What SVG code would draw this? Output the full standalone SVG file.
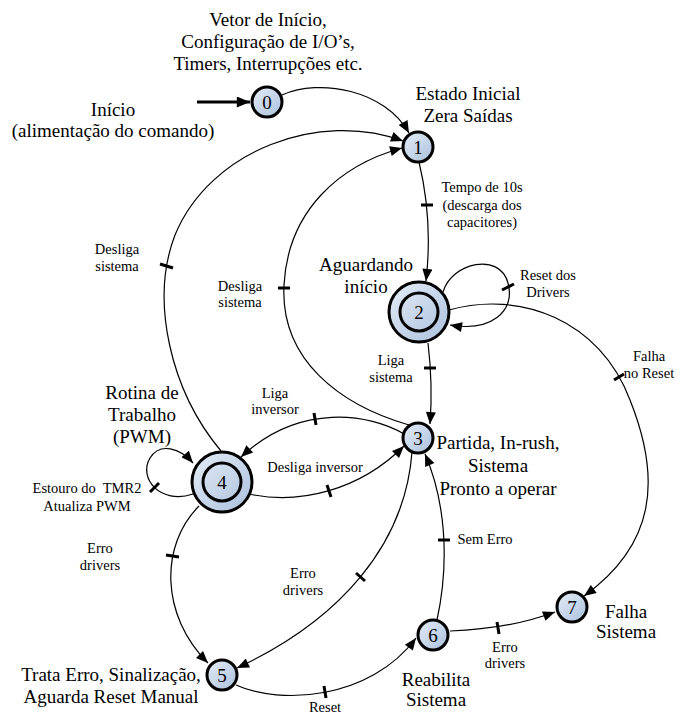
<svg xmlns="http://www.w3.org/2000/svg" width="687" height="715" viewBox="0 0 687 715">
  <style>
    .node { fill: url(#nodeFill); stroke: #000; stroke-width: 3; }
    .ring { fill: none; stroke: #000; stroke-width: 3; }
    .num { font-family: "Liberation Serif", "Times New Roman", serif; font-size: 19px; text-anchor: middle; fill: #000; }
    .big { font-family: "Liberation Serif", "Times New Roman", serif; font-size: 19px; text-anchor: middle; fill: #000; }
    .small { font-family: "Liberation Serif", "Times New Roman", serif; font-size: 14.5px; text-anchor: middle; fill: #000; }
    .edge { fill: none; stroke: #000; stroke-width: 1.2; marker-end: url(#arrow); }
    .tick { fill: none; stroke: #000; stroke-width: 3; }
  </style>
  <defs>
    <linearGradient id="nodeFill" x1="0" y1="0" x2="1" y2="1">
      <stop offset="0" stop-color="#e6edf7"/>
      <stop offset="1" stop-color="#a9c0dd"/>
    </linearGradient>
    <marker id="arrow" viewBox="0 0 12 10" refX="12" refY="5" markerWidth="14" markerHeight="10" markerUnits="userSpaceOnUse" orient="auto">
      <path d="M0,0 L12,5 L0,10 Z" fill="#000"/>
    </marker>
    <marker id="arrowBold" viewBox="0 0 12 10" refX="12" refY="5" markerWidth="15" markerHeight="11" markerUnits="userSpaceOnUse" orient="auto">
      <path d="M0,0 L12,5 L0,10 Z" fill="#000"/>
    </marker>
  </defs>

  <!-- free labels -->
  <g id="labels">
    <text class="big" x="268" y="26">Vetor de Início,</text>
    <text class="big" x="268" y="48">Configuração de I/O’s,</text>
    <text class="big" x="268" y="70">Timers, Interrupções etc.</text>
    <text class="big" x="113" y="116">Início</text>
    <text class="big" x="113" y="137">(alimentação do comando)</text>
  </g>

  <!-- connectors -->
  <g id="connectors">
    <path d="M197,102 L250,102" fill="none" stroke="#000" stroke-width="3" marker-end="url(#arrowBold)"/>
    <path class="edge" d="M282,95 C320,78 385,90 409,133"/>
    <path class="edge" d="M221,451 C170,390 150,300 175,235 C210,150 320,110 403,141"/>
    <path class="edge" d="M409,425 C340,405 280,360 284,285 C288,210 340,165 402,148"/>
    <path class="edge" d="M419,162 Q433,220 426,281"/>
    <path class="edge" d="M443,292 C452,262 500,252 508,283 C516,312 490,332 450,325"/>
    <path class="edge" d="M449,310 C520,290 600,320 630,400 C662,480 655,545 584,596"/>
    <path class="edge" d="M428,343 Q433,385 430,424"/>
    <path class="edge" d="M404,434 C370,414 300,402 241,457"/>
    <path class="edge" d="M249,494 C300,505 360,490 404,446"/>
    <path class="edge" d="M193,494 C160,505 138,478 150,458 C160,442 180,448 193,463"/>
    <path class="edge" d="M199,506 C160,545 160,615 208,663"/>
    <path class="edge" d="M412,452 C405,545 340,620 237,668"/>
    <path class="edge" d="M236,685 C280,705 370,700 416,638"/>
    <path class="edge" d="M437,620 C450,560 445,500 425,454"/>
    <path class="edge" d="M450,631 C480,630 520,625 555,612"/>

    <!-- transition bars -->
    <path class="tick" d="M421,205 L433,205"/>
    <path class="tick" d="M502,290 L514,284"/>
    <path class="tick" d="M614,380 L624,374"/>
    <path class="tick" d="M160,264 L173,268"/>
    <path class="tick" d="M278,288 L290,288"/>
    <path class="tick" d="M424,368 L436,368"/>
    <path class="tick" d="M314,413 L316,425"/>
    <path class="tick" d="M327,485 L331,497"/>
    <path class="tick" d="M159,483 L150,492"/>
    <path class="tick" d="M166,555 L179,557"/>
    <path class="tick" d="M356,573 L365,581"/>
    <path class="tick" d="M324,686 L326,698"/>
    <path class="tick" d="M438,540 L450,540"/>
    <path class="tick" d="M497,622 L499,634"/>

    <!-- transition labels -->
    <text class="small" x="482" y="192">Tempo de 10s</text>
    <text class="small" x="482" y="210">(descarga dos</text>
    <text class="small" x="482" y="227">capacitores)</text>
    <text class="small" x="548" y="280">Reset dos</text>
    <text class="small" x="548" y="297">Drivers</text>
    <text class="small" x="649" y="361">Falha</text>
    <text class="small" x="649" y="378">no Reset</text>
    <text class="small" x="117" y="254">Desliga</text>
    <text class="small" x="117" y="271">sistema</text>
    <text class="small" x="240" y="291">Desliga</text>
    <text class="small" x="240" y="307">sistema</text>
    <text class="small" x="391" y="365">Liga</text>
    <text class="small" x="391" y="382">sistema</text>
    <text class="small" x="275" y="398">Liga</text>
    <text class="small" x="275" y="414">inversor</text>
    <text class="small" x="315" y="472">Desliga inversor</text>
    <text class="small" x="87" y="493">Estouro do&#160; TMR2</text>
    <text class="small" x="87" y="511">Atualiza PWM</text>
    <text class="small" x="100" y="553">Erro</text>
    <text class="small" x="100" y="570">drivers</text>
    <text class="small" x="303" y="578">Erro</text>
    <text class="small" x="303" y="595">drivers</text>
    <text class="small" x="485" y="544">Sem Erro</text>
    <text class="small" x="505" y="652">Erro</text>
    <text class="small" x="505" y="668">drivers</text>
    <text class="small" x="325" y="712">Reset</text>
  </g>

  <!-- states -->
  <g id="state0">
    <circle class="node" cx="267" cy="102" r="15"/>
    <text class="num" x="267" y="109">0</text>
  </g>
  <g id="state1">
    <circle class="node" cx="418" cy="147" r="15"/>
    <text class="num" x="418" y="154">1</text>
    <text class="big" x="468" y="100">Estado Inicial</text>
    <text class="big" x="468" y="122">Zera Saídas</text>
  </g>
  <g id="state2">
    <circle class="node" cx="419" cy="312" r="30"/>
    <circle class="ring" cx="419" cy="312" r="19"/>
    <text class="num" x="419" y="319">2</text>
    <text class="big" x="366" y="271">Aguardando</text>
    <text class="big" x="366" y="293">início</text>
  </g>
  <g id="state3">
    <circle class="node" cx="418" cy="438" r="15"/>
    <text class="num" x="418" y="445">3</text>
    <text class="big" x="498" y="449">Partida, In-rush,</text>
    <text class="big" x="498" y="472">Sistema</text>
    <text class="big" x="498" y="495">Pronto a operar</text>
  </g>
  <g id="state4">
    <circle class="node" cx="222" cy="482" r="30"/>
    <circle class="ring" cx="222" cy="482" r="19"/>
    <text class="num" x="222" y="489">4</text>
    <text class="big" x="142" y="399">Rotina de</text>
    <text class="big" x="142" y="421">Trabalho</text>
    <text class="big" x="142" y="443">(PWM)</text>
  </g>
  <g id="state5">
    <circle class="node" cx="222" cy="675" r="15"/>
    <text class="num" x="222" y="682">5</text>
    <text class="big" x="111" y="681">Trata Erro, Sinalização,</text>
    <text class="big" x="111" y="703">Aguarda Reset Manual</text>
  </g>
  <g id="state6">
    <circle class="node" cx="433" cy="635" r="15"/>
    <text class="num" x="433" y="642">6</text>
    <text class="big" x="436" y="686">Reabilita</text>
    <text class="big" x="436" y="706">Sistema</text>
  </g>
  <g id="state7">
    <circle class="node" cx="572" cy="607" r="15"/>
    <text class="num" x="572" y="614">7</text>
    <text class="big" x="626" y="618">Falha</text>
    <text class="big" x="626" y="638">Sistema</text>
  </g>
</svg>
